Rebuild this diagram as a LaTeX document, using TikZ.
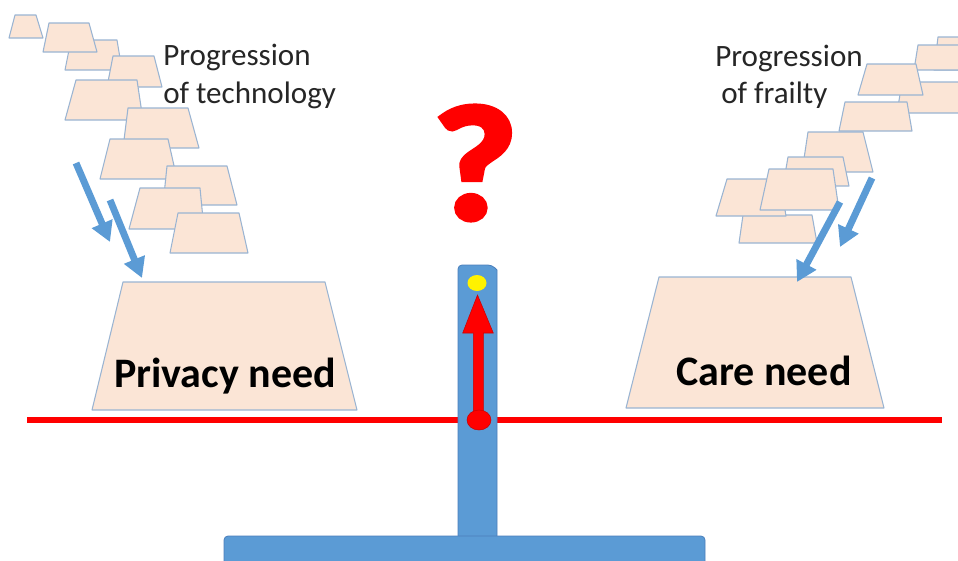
\documentclass[tikz,border=0pt]{standalone}
\usepackage{fontspec}
\setmainfont{Carlito}
\newfontfamily\qfont{Carlito}[UprightFont={* Bold},FakeBold=3.5]
\usetikzlibrary{arrows.meta}
\definecolor{trapfill}{HTML}{FBE5D6}
\definecolor{trapline}{HTML}{9AB4D2}
\definecolor{pillarblue}{HTML}{5B9BD5}
\definecolor{pillarline}{HTML}{4A7EBB}
\definecolor{arrowblue}{HTML}{5B9BD5}
\newcommand\trap[6]{\draw[trapstyle] (#1,#3) -- (#2,#3) -- (#5,#6) -- (#4,#6) -- cycle;}
\begin{document}
\begin{tikzpicture}[x=0.75pt,y=-0.75pt,
  trapstyle/.style={fill=trapfill,draw=trapline,line width=0.8pt,line join=round},
  bluearrow/.style={draw=arrowblue,line width=5.2pt,-{Triangle[length=15pt,width=16pt]}},
  smalltext/.style={font=\fontsize{23.3}{28}\selectfont,text=black!85,inner sep=0pt,anchor=base west},
  bigtext/.style={font=\fontsize{31.5}{36}\selectfont\bfseries,text=black,inner sep=0pt,anchor=base}]
\useasboundingbox (0,0) rectangle (958,561);
\clip (0,0) rectangle (958,561);
% ---------- left cluster (technology) ----------
\trap{9}{43}{38}{15}{36}{15}
\trap{65}{122}{70}{71}{117}{40}
\trap{43}{97}{52}{49}{89}{23}
\trap{107}{162}{87}{113}{154}{56}
\trap{65}{143}{120}{76}{137}{80}
\trap{123}{199}{148}{128}{188}{108}
\trap{100}{177}{179}{110}{168}{139}
\trap{163}{237}{205}{167}{227}{166}
\trap{129}{204}{229}{140}{200}{188}
\trap{170}{248}{253}{178}{239}{213}
% ---------- right cluster (frailty) ----------
\trap{934}{1000}{70}{938}{995}{37}
\trap{914}{1000}{70}{918}{995}{45}
\trap{897}{1000}{113}{902}{995}{82}
\trap{858}{923}{95}{867}{916}{64}
\trap{839}{912}{131}{845}{907}{102}
\trap{802}{873}{172}{808}{863}{132}
\trap{783}{849}{186}{788}{843}{157}
\trap{739}{817}{243}{743}{812}{215}
\trap{716}{786}{216}{727}{780}{179}
\trap{760}{839}{210}{769}{833}{169}
% ---------- labels ----------
\node[smalltext] (techA) at (163,65) {Progression};
\node[smalltext] (techB) at (163,103) {of technology};
\node[smalltext] (frailA) at (715,66) {Progression};
\node[smalltext] (frailB) at (721,103) {of frailty};
% ---------- big trapezoids ----------
\trap{92}{357}{410}{123}{325}{282}
\trap{626}{884}{408}{659}{851}{277}
\node[bigtext] (privacy) at (225,387) {Privacy need};
\node[bigtext] (care) at (764,385) {Care need};
% ---------- blue arrows ----------
\draw[bluearrow] (76,163) -- (110,242);
\draw[bluearrow] (110,200) -- (142,278);
\draw[bluearrow] (840,202) -- (797,282);
\draw[bluearrow] (872,178) -- (840,247);
% ---------- balance ----------
\draw[red,line width=4.5pt] (27,420) -- (942,420);
\path[fill=pillarblue,draw=pillarline,line width=0.6pt]
  (458,537) [rounded corners=3pt] -- (458,265) -- (492,265) [sharp corners] -- (497,270) -- (497,537) -- cycle;
\path[fill=pillarblue,draw=pillarline,line width=0.6pt,rounded corners=3pt]
  (224,575) -- (224,536) -- (705,536) -- (705,575);
\fill[yellow] (477,283) ellipse [x radius=9.5,y radius=8];
\path[fill=red,draw=red!80!black,line width=0.4pt]
  (473.3,413) -- (473.3,333) -- (462.7,333) -- (477.5,295) -- (493.3,333) -- (483.3,333) -- (483.3,413) -- cycle;
\path[fill=red,draw=red!80!black,line width=0.4pt] (479,420) ellipse [x radius=12,y radius=10];
\node[text=red,inner sep=0pt,font=\fontsize{122}{122}\selectfont\qfont] (qmark) at (475,163) {\scalebox{1.12}[1]{?}};
\end{tikzpicture}
\end{document}
